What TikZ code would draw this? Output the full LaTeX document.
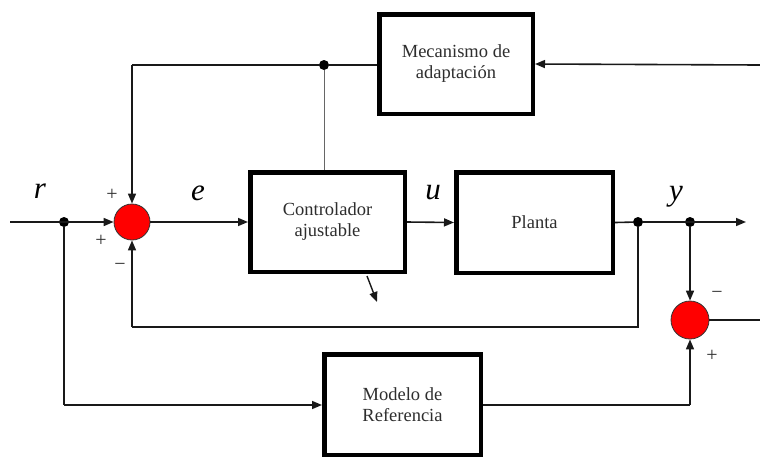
\documentclass[tikz,border=0pt]{standalone}
\usepackage{fontspec}
\setmainfont{Liberation Serif}
\usetikzlibrary{arrows.meta,calc}
\definecolor{txt}{HTML}{2E2E2E}
\definecolor{sumred}{HTML}{FF0000}
\tikzset{
  blk/.style={draw=black, line width=4.5pt, fill=white, align=center, text=txt,
    font=\fontsize{18.5}{21}\selectfont},
  sumnode/.style={circle, draw=black!80, line width=0.8pt, fill=sumred, minimum size=#1, inner sep=0pt},
  wire/.style={line width=1.6pt, draw=black!90},
  arr/.style={wire, -{Triangle[length=10pt,width=8pt]}},
  dotnode/.style={circle, fill=black, minimum size=10pt, inner sep=0pt},
  sig/.style={text=black, font=\fontsize{31}{31}\selectfont\itshape},
  sgn/.style={text=txt, font=\fontsize{20}{20}\selectfont},
}
\begin{document}
\begin{tikzpicture}[x=1pt,y=-1pt]
\useasboundingbox (0,0) rectangle (760,459);
% blocks
\node[blk, minimum width=153.5pt, minimum height=99.5pt] (mec) at (456,64) {Mecanismo de\\adaptación};
\node[blk, minimum width=154.5pt, minimum height=99.5pt] (ctrl) at (327.5,222) {Controlador\\ajustable};
\node[blk, minimum width=156.5pt, minimum height=100.5pt] (plant) at (534.5,222.5) {Planta};
\node[blk, minimum width=156.5pt, minimum height=100.5pt] (model) at (402.5,404.5) {Modelo de\\Referencia};
% summing junctions
\node[sumnode=36pt] (s1) at (132,222) {};
\node[sumnode=38pt] (s2) at (690,320) {};
% junction dots
\node[dotnode] (jin) at (64,222) {};
\node[dotnode] (jtop) at (324,65) {};
\node[dotnode] (jy1) at (638,222) {};
\node[dotnode] (jy2) at (690,222) {};
% free ends
\coordinate (rin) at (10,222);
\coordinate (yout) at (746,222);
\coordinate (mecin) at (760,65);
\coordinate (eout) at (760,320);
\coordinate (d1) at (367,276);
\coordinate (d2) at (377,302);
\coordinate (tl) at (132,65);
\coordinate (fb1) at (638,327);
\coordinate (fb2) at (132,327);
\coordinate (md1) at (64,405);
\coordinate (md2) at (690,405);
% connectors
\draw[arr] (rin) -- (s1.west);
\draw[arr] (s1.east) -- (ctrl.west);
\draw[arr] (ctrl.east) -- (plant.west);
\draw[wire] (plant.east) -- (jy1);
\draw[arr] (jy1) -- (yout);
\draw[arr] (mecin) -- (mec.east);
\draw[wire] (mec.west |- jtop) -- (jtop) -- (tl);
\draw[arr] (tl) -- (s1.north);
\draw[line width=1pt, draw=black!60] (jtop) -- (jtop |- ctrl.north);
\draw[wire] (jy1) -- (fb1) -- (fb2);
\draw[arr] (fb2) -- (s1.south);
\draw[arr] (jy2) -- (s2.north);
\draw[wire] (s2.east) -- (eout);
\draw[wire] (jin) -- (md1);
\draw[arr] (md1) -- (model.west |- md1);
\draw[wire] (model.east |- md2) -- (md2);
\draw[arr] (md2) -- (s2.south);
\draw[wire, line width=1.4pt, -{Triangle[length=10pt,width=8pt]}] (d1) -- (d2);
% signal labels
\node[sig] (lr) at (40,191) {r};
\node[sig] (le) at (198,193) {e};
\node[sig] (lu) at (433,193) {u};
\node[sig] (ly) at (676,197) {y};
% signs
\node[sgn] (p1) at (112,195) {+};
\node[sgn] (p2) at (101,241) {+};
\node[sgn] (m1) at (120,267) {\symbol{"2212}};
\node[sgn] (m2) at (717,295) {\symbol{"2212}};
\node[sgn] (p3) at (712,356) {+};
\end{tikzpicture}
\end{document}
